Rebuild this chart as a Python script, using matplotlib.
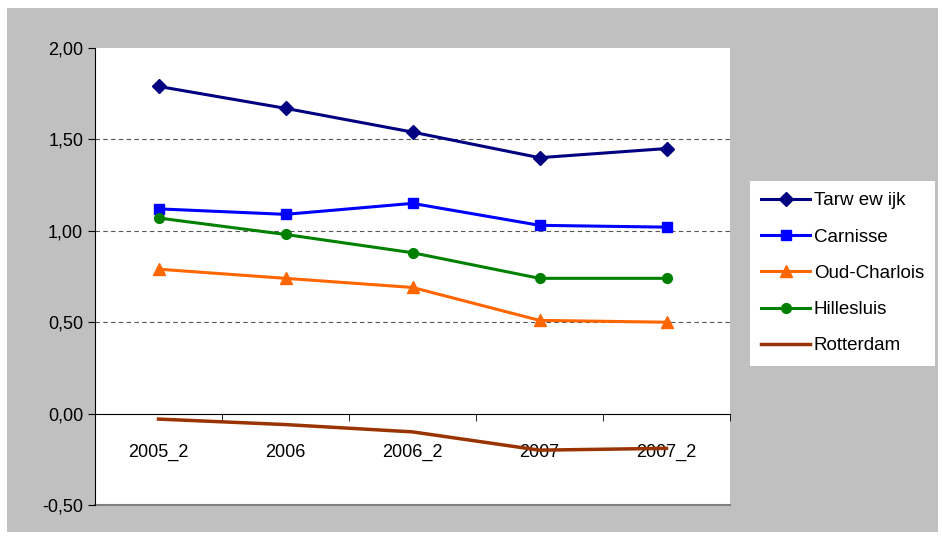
import matplotlib.pyplot as plt
from matplotlib.patches import Rectangle
from matplotlib.ticker import FuncFormatter

categories = ['2005_2', '2006', '2006_2', '2007', '2007_2']
tarwewijk = [1.79, 1.67, 1.54, 1.40, 1.45]
carnisse = [1.12, 1.09, 1.15, 1.03, 1.02]
oud_charlois = [0.79, 0.74, 0.69, 0.51, 0.50]
hillesluis = [1.07, 0.98, 0.88, 0.74, 0.74]
rotterdam = [-0.03, -0.06, -0.10, -0.20, -0.19]

plt.rcParams['font.family'] = ['Liberation Sans', 'DejaVu Sans']
fig = plt.figure(figsize=(9.42, 5.40), dpi=100, facecolor='white')
fig.patches.append(Rectangle((7/942, 1-532/540), 931/942, 524/540, transform=fig.transFigure,
                             facecolor='#c0c0c0', edgecolor='none', zorder=-10))
ax = fig.add_axes([95/942, 1-505/540, 635/942, 457/540])
ax.set_facecolor('white')

x = range(len(categories))
ax.plot(x, tarwewijk, color='#000080', marker='D', markersize=7, lw=2.2, label='Tarw ew ijk')
ax.plot(x, carnisse, color='#0000ff', marker='s', markersize=7, lw=2.2, label='Carnisse')
ax.plot(x, oud_charlois, color='#ff6600', marker='^', markersize=8, lw=2.2, label='Oud-Charlois')
ax.plot(x, hillesluis, color='#008000', marker='o', markersize=7, lw=2.2, label='Hillesluis')
ax.plot(x, rotterdam, color='#993300', lw=2.5, label='Rotterdam')

ax.set_xlim(-0.5, len(categories) - 0.5)
ax.set_ylim(-0.5, 2.0)
ax.set_yticks([-0.5, 0, 0.5, 1.0, 1.5, 2.0])
ax.yaxis.set_major_formatter(FuncFormatter(lambda v, p: f'{v:.2f}'.replace('.', ',')))
for v in [0.5, 1.0, 1.5]:
    ax.axhline(v, color='#555555', lw=0.8, ls=(0, (4, 3)), zorder=0)
ax.axhline(-0.5, color='#808080', lw=1.5, zorder=0, clip_on=False)

ax.spines['bottom'].set_position(('data', 0))
ax.spines['top'].set_visible(False)
ax.spines['right'].set_visible(False)
ax.spines['left'].set_color('black')
ax.spines['bottom'].set_color('black')
ax.set_xticks(list(x))
ax.set_xticklabels(categories)
ax.tick_params(axis='x', length=0, pad=22, labelsize=13)
ax.tick_params(axis='y', direction='out', length=5, labelsize=13)
ax.set_xticks([i - 0.5 for i in range(len(categories) + 1)], minor=True)
ax.tick_params(axis='x', which='minor', direction='out', length=5)

leg = fig.legend(loc='upper left', bbox_to_anchor=(750/942, 1-181/540), frameon=True,
                 fancybox=False, edgecolor='none', facecolor='white', framealpha=1,
                 fontsize=13.5, handlelength=2.6, handletextpad=0.2,
                 labelspacing=1.02, borderpad=0.6, borderaxespad=0)

fig.savefig('out.png', dpi=100, facecolor=fig.get_facecolor())
